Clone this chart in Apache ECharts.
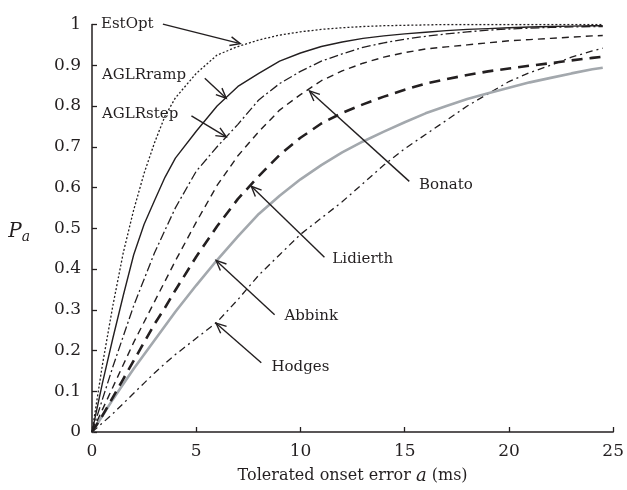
<!DOCTYPE html>
<html>
<head>
<meta charset="utf-8">
<script src="https://cdn.jsdelivr.net/npm/echarts@6/dist/echarts.min.js"></script>
<style>
  html, body { margin: 0; padding: 0; background: #fff; }
  #chart { width: 627px; height: 490px; }
</style>
</head>
<body>
<div id="chart"></div>
<script>
// Tolerated onset error a (ms)
const onsetError = [0, 0.5, 1, 1.5, 2, 2.5, 3, 3.5, 4, 5, 6, 7, 8, 9, 10, 11, 12, 13, 14, 15, 16, 17, 18, 19, 20, 21, 22, 23, 24, 24.5];

// Probability Pa for each detector
const estOpt    = [0, 0.165, 0.31, 0.44, 0.545, 0.635, 0.71, 0.775, 0.82, 0.88, 0.925, 0.946, 0.962, 0.974, 0.982, 0.988, 0.992, 0.995, 0.997, 0.998, 0.999, 1, 1, 1, 1, 1, 1, 1, 1, 1];
const aglrRamp  = [0, 0.12, 0.23, 0.335, 0.435, 0.51, 0.568, 0.625, 0.672, 0.738, 0.80, 0.848, 0.88, 0.91, 0.93, 0.946, 0.957, 0.966, 0.972, 0.977, 0.981, 0.985, 0.988, 0.99, 0.992, 0.994, 0.995, 0.996, 0.997, 0.997];
const aglrStep  = [0, 0.08, 0.16, 0.235, 0.31, 0.375, 0.44, 0.495, 0.55, 0.64, 0.70, 0.755, 0.815, 0.855, 0.885, 0.91, 0.928, 0.944, 0.955, 0.964, 0.971, 0.977, 0.982, 0.986, 0.989, 0.991, 0.993, 0.994, 0.995, 0.995];
const bonato    = [0, 0.055, 0.11, 0.165, 0.22, 0.27, 0.32, 0.37, 0.42, 0.515, 0.605, 0.678, 0.737, 0.79, 0.828, 0.862, 0.886, 0.905, 0.92, 0.931, 0.94, 0.945, 0.95, 0.955, 0.96, 0.963, 0.966, 0.969, 0.972, 0.973];
const lidierth  = [0, 0.04, 0.085, 0.13, 0.175, 0.22, 0.265, 0.305, 0.348, 0.43, 0.505, 0.572, 0.628, 0.68, 0.722, 0.757, 0.783, 0.804, 0.823, 0.84, 0.855, 0.866, 0.876, 0.885, 0.892, 0.899, 0.905, 0.912, 0.918, 0.921];
const abbink    = [0, 0.04, 0.08, 0.118, 0.155, 0.19, 0.225, 0.26, 0.295, 0.36, 0.422, 0.48, 0.535, 0.58, 0.62, 0.655, 0.686, 0.713, 0.737, 0.76, 0.782, 0.80, 0.817, 0.831, 0.845, 0.858, 0.869, 0.88, 0.89, 0.894];
const hodges    = [0, 0.022, 0.045, 0.07, 0.095, 0.12, 0.145, 0.168, 0.19, 0.23, 0.27, 0.325, 0.385, 0.435, 0.485, 0.525, 0.565, 0.61, 0.655, 0.695, 0.73, 0.765, 0.80, 0.83, 0.86, 0.882, 0.90, 0.92, 0.935, 0.942];

// Callout labels, in data units: arrow tail, arrow tip, text anchor
const calloutNames = ['EstOpt', 'AGLRramp', 'AGLRstep', 'Bonato', 'Lidierth', 'Abbink', 'Hodges'];
const calloutTail  = [[3.40, 1.001], [5.41, 0.868], [4.77, 0.776], [15.22, 0.615], [11.15, 0.429], [8.76, 0.288], [8.12, 0.170]];
const calloutTip   = [[7.11, 0.953], [6.44, 0.819], [6.44, 0.724], [10.43, 0.837], [7.64, 0.603], [5.95, 0.421], [5.95, 0.267]];
const calloutText  = [[0.43, 1.0], [0.48, 0.876], [0.48, 0.781], [15.69, 0.606], [11.53, 0.425], [9.23, 0.284], [8.61, 0.160]];

const INK = '#231f20';
const SERIF = '"DejaVu Serif", "Liberation Serif", serif';

function pairs(ys) {
  return onsetError.map((x, i) => [x, ys[i]]);
}

function lineSeries(name, ys, style) {
  return {
    name: name,
    type: 'line',
    data: pairs(ys),
    showSymbol: false,
    symbol: 'none',
    smooth: false,
    lineStyle: Object.assign({ color: INK, width: 1.3, type: 'solid' }, style),
    silent: true,
    animation: false
  };
}

const calloutData = calloutNames.map((n, i) => [
  calloutTail[i][0], calloutTail[i][1],
  calloutTip[i][0], calloutTip[i][1],
  calloutText[i][0], calloutText[i][1], i
]);

// Arrow with an open V head plus its text label
function renderCallout(params, api) {
  const tail = api.coord([api.value(0), api.value(1)]);
  const tip = api.coord([api.value(2), api.value(3)]);
  const txt = api.coord([api.value(4), api.value(5)]);
  const name = calloutNames[api.value(6)];
  const dx = tip[0] - tail[0], dy = tip[1] - tail[1];
  const len = Math.sqrt(dx * dx + dy * dy);
  const bx = -dx / len, by = -dy / len;
  const head = 11, spread = 0.42;
  const cos = Math.cos(spread), sin = Math.sin(spread);
  const p1 = [tip[0] + head * (bx * cos - by * sin), tip[1] + head * (bx * sin + by * cos)];
  const p2 = [tip[0] + head * (bx * cos + by * sin), tip[1] + head * (-bx * sin + by * cos)];
  return {
    type: 'group',
    children: [
      { type: 'line', shape: { x1: tail[0], y1: tail[1], x2: tip[0], y2: tip[1] },
        style: { stroke: INK, lineWidth: 1.4 } },
      { type: 'polyline', shape: { points: [p1, tip, p2] },
        style: { stroke: INK, lineWidth: 1.4, fill: null } },
      { type: 'text', x: txt[0], y: txt[1],
        style: { text: name, fill: INK, fontFamily: SERIF, fontSize: 15,
                 align: 'left', verticalAlign: 'middle' } }
    ]
  };
}

const chart = echarts.init(document.getElementById('chart'), null, { renderer: 'canvas' });

chart.setOption({
  animation: false,
  backgroundColor: '#ffffff',
  grid: { left: 92, right: 12, top: 24.5, bottom: 53, containLabel: false },
  xAxis: {
    type: 'value',
    min: 0, max: 25, interval: 5,
    name: 'Tolerated onset error {i|a} (ms)',
    nameLocation: 'middle',
    nameGap: 35,
    nameTextStyle: {
      color: INK, fontFamily: SERIF, fontSize: 16,
      rich: { i: { fontStyle: 'italic', fontFamily: SERIF, fontSize: 18, color: INK } }
    },
    axisLine: { show: true, lineStyle: { color: INK, width: 1.5 } },
    axisTick: { show: true, inside: true, length: 5, lineStyle: { color: INK, width: 1.3 } },
    axisLabel: { color: INK, fontFamily: SERIF, fontSize: 17, margin: 11 },
    splitLine: { show: false }
  },
  yAxis: {
    type: 'value',
    min: 0, max: 1, interval: 0.1,
    name: '{p|P}{s|a}',
    nameLocation: 'middle',
    nameRotate: 0,
    nameGap: 62,
    nameTextStyle: {
      color: INK, fontFamily: SERIF, padding: [8, 0, 0, 0],
      rich: {
        p: { fontStyle: 'italic', fontFamily: SERIF, fontSize: 20, color: INK },
        s: { fontStyle: 'italic', fontFamily: SERIF, fontSize: 14, color: INK, padding: [10, 0, 0, 0] }
      }
    },
    axisLine: { show: true, lineStyle: { color: INK, width: 1.5 } },
    axisTick: { show: true, inside: true, length: 5, lineStyle: { color: INK, width: 1.3 } },
    axisLabel: {
      color: INK, fontFamily: SERIF, fontSize: 17, margin: 11,
      formatter: v => String(Math.round(v * 10) / 10)
    },
    splitLine: { show: false }
  },
  series: [
    lineSeries('Hodges',   hodges,   { width: 1.3, type: [7, 4, 2, 4] }),
    lineSeries('Abbink',   abbink,   { width: 2.6, color: '#a3a8ad' }),
    lineSeries('Lidierth', lidierth, { width: 2.6, type: [11, 7] }),
    lineSeries('Bonato',   bonato,   { width: 1.4, type: [7, 5] }),
    lineSeries('AGLRstep', aglrStep, { width: 1.3, type: [9, 3, 2, 3] }),
    lineSeries('AGLRramp', aglrRamp, { width: 1.4 }),
    lineSeries('EstOpt',   estOpt,   { width: 1.3, type: [2, 2] }),
    {
      name: 'callouts',
      type: 'custom',
      coordinateSystem: 'cartesian2d',
      renderItem: renderCallout,
      data: calloutData,
      clip: false,
      silent: true,
      z: 5
    }
  ]
});
</script>
</body>
</html>
